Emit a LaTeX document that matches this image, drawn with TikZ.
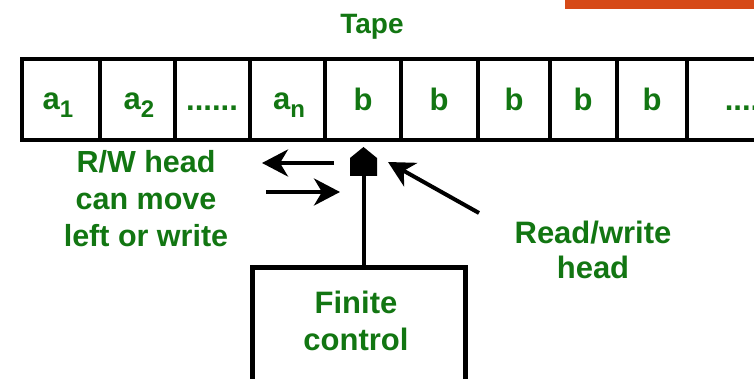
\documentclass[tikz,border=0pt]{standalone}
\usepackage{fontspec}
\setmainfont{Liberation Sans}
\usetikzlibrary{arrows.meta}
\definecolor{labelgreen}{RGB}{18,118,18}
\definecolor{barorange}{RGB}{214,74,24}
\newcommand{\lowsub}[1]{\raisebox{-8pt}{\fontsize{24}{24}\selectfont #1}}
\tikzset{
  lbl/.style={text=labelgreen, font=\bfseries\fontsize{28}{37}\selectfont, align=center, inner sep=0pt},
  sidelbl/.style={lbl, font=\bfseries\fontsize{30.5}{37}\selectfont},
  boxlbl/.style={lbl, font=\bfseries\fontsize{31}{37}\selectfont},
  cell/.style={lbl, anchor=base, font=\bfseries\fontsize{31}{37}\selectfont},
  heavy/.style={line width=4.5pt},
  bigarrow/.style={line width=4pt, -{Stealth[length=26pt,width=27pt,inset=8pt]}},
}
\begin{document}
\begin{tikzpicture}[x=1pt,y=-1pt]
\useasboundingbox (0,0) rectangle (754,379);
\clip (0,0) rectangle (754,379);

% orange strip at the top
\fill[barorange] (565,-1) rectangle (755,9);

% title
\node[lbl] (title) at (372,27) {Tape};

% tape cells
\draw[heavy] (755,59) -- (22,59) -- (22,140) -- (755,140);
\foreach \x in {100,175,250,325,401,478,550,617,687}
  \draw[heavy] (\x,59) -- (\x,140);
\node[cell] (c1) at (58,110) {a\lowsub{1}};
\node[cell] (c2) at (139,110) {a\lowsub{2}};
\node[cell] (c3) at (212,111) {......};
\node[cell] (c4) at (289,110) {a\lowsub{n}};
\node[cell] (c5) at (363,111) {b};
\node[cell] (c6) at (439,111) {b};
\node[cell] (c7) at (514,111) {b};
\node[cell] (c8) at (583,111) {b};
\node[cell] (c9) at (652,111) {b};
\node[cell] (c10) at (742,111) {....};

% read/write head
\fill (350,176) -- (350,158) -- (363.5,147) -- (377,158) -- (377,176) -- cycle;
\coordinate (headbase) at (364,175);
\coordinate (headtip) at (388,162);

% finite control
\node[draw, heavy, minimum width=213pt, minimum height=140pt, anchor=north west, inner sep=0pt] (fc) at (250,265) {};
\node[boxlbl] (fctext) at (356,321) {Finite\\control};
\draw[heavy] (fc.north -| headbase) -- (headbase);

% movement arrows
\coordinate (la1) at (334,163);
\coordinate (la2) at (262,163);
\coordinate (ra1) at (266,192);
\coordinate (ra2) at (340,192);
\draw[bigarrow] (la1) -- (la2);
\draw[bigarrow] (ra1) -- (ra2);

% labels
\node[sidelbl] (move) at (146,199) {R/W head\\can move\\left or write};
\node[sidelbl, font=\bfseries\fontsize{31}{35}\selectfont] (rwlabel) at (593,250) {Read/write\\head};
\coordinate (rwtail) at (479,213);
\draw[bigarrow] (rwtail) -- (headtip);
\end{tikzpicture}
\end{document}
